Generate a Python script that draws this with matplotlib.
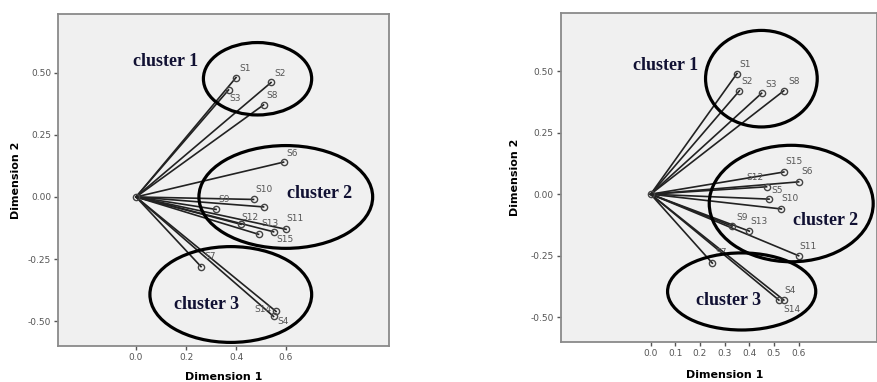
import matplotlib.pyplot as plt
from matplotlib.patches import Ellipse

# left solution
left_names = ['S1', 'S2', 'S3', 'S8', 'S6', 'S10', 'S5', 'S9', 'S12',
              'S13', 'S15', 'S11', 'S7', 'S14', 'S4']
left_x = [0.40, 0.54, 0.37, 0.51, 0.59, 0.47, 0.51, 0.32, 0.42,
          0.49, 0.55, 0.60, 0.26, 0.56, 0.55]
left_y = [0.48, 0.46, 0.43, 0.37, 0.14, -0.01, -0.04, -0.05, -0.11,
          -0.15, -0.14, -0.13, -0.28, -0.46, -0.48]

# right solution
right_names = ['S1', 'S2', 'S3', 'S8', 'S15', 'S6', 'S5', 'S12', 'S10',
               'S9', 'S13', 'S11', 'S7', 'S4', 'S14']
right_x = [0.35, 0.36, 0.45, 0.54, 0.54, 0.60, 0.47, 0.48, 0.53,
           0.33, 0.40, 0.60, 0.25, 0.54, 0.52]
right_y = [0.49, 0.42, 0.41, 0.42, 0.09, 0.05, 0.03, -0.02, -0.06,
           -0.13, -0.15, -0.25, -0.28, -0.43, -0.43]

# label offsets (pixels)
left_off = {'S1': (9, 9), 'S2': (9, 9), 'S3': (7, -9), 'S8': (9, 9),
            'S6': (9, 9), 'S10': (10, 10), 'S5': None, 'S9': (8, 10),
            'S12': (9, 7), 'S13': (11, 11), 'S15': (11, -8), 'S11': (9, 11),
            'S7': (9, 10), 'S14': (-13, 2), 'S4': (10, -5)}
right_off = {'S1': (8, 9), 'S2': (8, 9), 'S3': (9, 9), 'S8': (10, 9),
             'S15': (10, 11), 'S6': (9, 10), 'S5': (11, -4), 'S12': (-14, 22),
             'S10': (9, 10), 'S9': (10, 9), 'S13': (10, 10), 'S11': (9, 9),
             'S7': (9, 11), 'S4': (6, 10), 'S14': (13, -9)}

# clusters: centre, width, height ; label position
left_ell = [((0.486, 0.475), 0.433, 0.291), ((0.599, 0.0), 0.695, 0.413),
            ((0.379, -0.392), 0.647, 0.385)]
left_lab = [(0.12, 0.544), (0.733, 0.014), (0.283, -0.434)]
right_ell = [((0.449, 0.469), 0.453, 0.392), ((0.570, -0.038), 0.665, 0.473),
             ((0.369, -0.395), 0.601, 0.313)]
right_lab = [(0.059, 0.523), (0.709, -0.105), (0.315, -0.430)]

fig = plt.figure(figsize=(8.78, 3.82), dpi=100)
ax1 = fig.add_axes([0.0661, 0.0942, 0.377, 0.869])
ax2 = fig.add_axes([0.6386, 0.1055, 0.3600, 0.860])


def draw(ax, names, xs, ys, offs, ells, labs, xlim, xticks, xfmt):
    ax.set_facecolor('#f0f0f0')
    for x, y in zip(xs, ys):
        ax.plot([0, x], [0, y], color='#222222', lw=1.2, zorder=2)
    ax.plot(xs, ys, 'o', ms=4.5, mfc='none', mec='#444444', mew=1.0, zorder=3)
    ax.plot([0], [0], 'o', ms=4.5, mfc='none', mec='#444444', mew=1.0, zorder=3)
    for n, x, y in zip(names, xs, ys):
        o = offs[n]
        if o is None:
            continue
        ax.annotate(n, (x, y), xytext=o, textcoords='offset pixels',
                    ha='center', va='center', fontsize=6.5, color='#555555',
                    zorder=4)
    for i, ((c, w, h), (tx, ty)) in enumerate(zip(ells, labs)):
        ax.add_patch(Ellipse(c, w, h, fill=False, ec='black', lw=2.3,
                             clip_on=False, zorder=5))
        ax.text(tx, ty, 'cluster %d' % (i + 1), family='Liberation Serif',
                fontweight='bold', fontsize=13, color='#111133',
                ha='center', va='center', zorder=6)
    ax.set_xlim(*xlim)
    ax.set_ylim(-0.599, 0.735)
    ax.set_xticks(xticks)
    ax.set_xticklabels([xfmt % t for t in xticks])
    ax.set_yticks([-0.5, -0.25, 0, 0.25, 0.5])
    ax.set_yticklabels(['-0.50', '-0.25', '0.00', '0.25', '0.50'])
    ax.tick_params(labelsize=6.5, labelcolor='#555555', color='#555555',
                   length=3, width=1, pad=2)
    for s in ax.spines.values():
        s.set_color('#8a8a8a')
        s.set_linewidth(1.3)
    ax.set_xlabel('Dimension 1', fontsize=8, fontweight='bold', labelpad=7)
    ax.set_ylabel('Dimension 2', fontsize=8, fontweight='bold', labelpad=5)


draw(ax1, left_names, left_x, left_y, left_off, left_ell, left_lab,
     (-0.312, 1.012), [0, 0.2, 0.4, 0.6], '%.1f')
draw(ax2, right_names, right_x, right_y, right_off, right_ell, right_lab,
     (-0.365, 0.917), [0, 0.1, 0.2, 0.3, 0.4, 0.5, 0.6], '%.1f')
ax2.xaxis.set_label_coords(0.52, -0.085)
ax2.yaxis.set_label_coords(-0.13, 0.5)

fig.savefig('out.png', dpi=100, facecolor='white')
